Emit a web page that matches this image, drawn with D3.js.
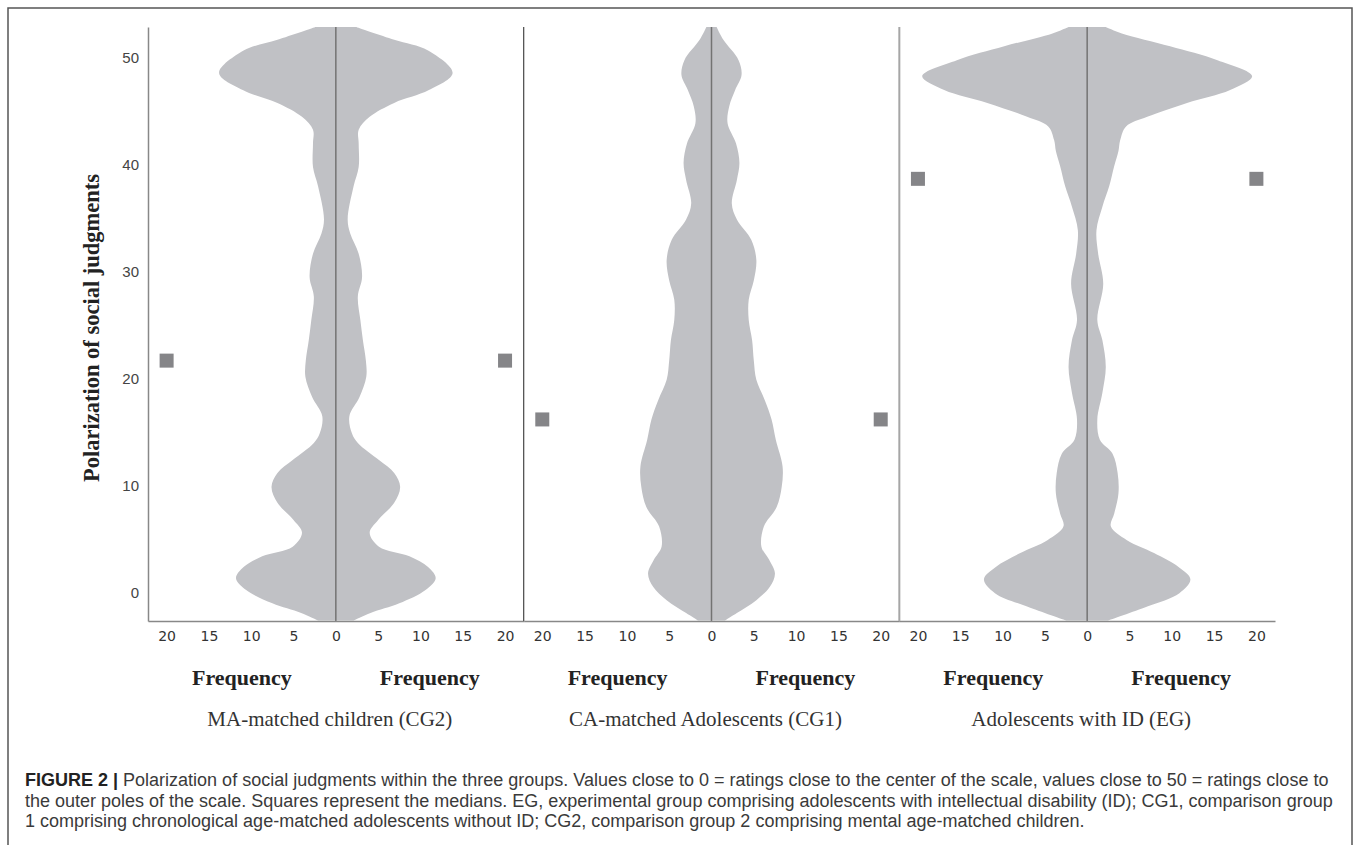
<!DOCTYPE html>
<html>
<head>
<meta charset="utf-8">
<script src="https://cdnjs.cloudflare.com/ajax/libs/d3/7.8.5/d3.min.js"></script>
<style>
body { margin: 0; background: #fff; }
#graphic svg { display: block; }
</style>
</head>
<body>
<div id="graphic"></div>
<script>
// group names, left to right
var groupLabels = ["MA-matched children (CG2)", "CA-matched Adolescents (CG1)", "Adolescents with ID (EG)"];
var medians = [21.7, 16.2, 38.7];

// violin outlines: polarization level and frequency (half width)
var cg2Levels = [-2.6, -1.9, -1.0, 0.25, 1.35, 2.4, 3.4, 4.3, 5.6, 6.8, 8.4, 9.9, 11.2, 12.4, 14.0, 14.9, 16.5, 18.3, 20.2, 21.7, 23.6, 25.5, 27.7, 29.5, 31.7, 33.6, 34.9, 38.0, 39.8, 42.0, 43.3, 44.5, 45.8, 47.0, 48.6, 50.7, 51.7, 52.9];
var cg2Freq = [2.1, 4.1, 7.5, 10.6, 11.8, 10.9, 8.7, 5.1, 4.0, 5.0, 6.9, 7.6, 6.9, 5.1, 2.6, 1.9, 1.6, 2.8, 3.6, 3.55, 3.2, 2.9, 2.6, 3.1, 2.7, 1.7, 1.4, 2.1, 2.7, 2.7, 2.7, 4.0, 6.9, 11.0, 13.8, 10.9, 6.9, 2.4];

var cg1Levels = [-2.6, -1.9, -0.7, 0.56, 1.8, 3.1, 4.3, 6.2, 8.0, 9.9, 11.8, 14.3, 16.2, 18.0, 19.9, 21.7, 23.6, 25.5, 27.4, 29.2, 31.1, 33.0, 34.9, 36.4, 38.6, 40.2, 42.0, 43.9, 45.5, 47.0, 48.4, 49.8, 51.7, 52.9];
var cg1Freq = [1.6, 3.0, 5.3, 6.9, 7.5, 6.8, 5.9, 6.2, 7.7, 8.3, 8.4, 7.6, 7.1, 6.3, 5.3, 5.0, 4.8, 4.4, 4.4, 5.0, 5.3, 4.7, 3.0, 2.4, 3.0, 3.3, 2.9, 1.9, 2.1, 2.8, 3.55, 3.2, 1.4, 0.6];

var egLevels = [-2.6, -1.3, -0.05, 1.25, 2.4, 3.7, 4.9, 6.2, 7.4, 9.3, 11.2, 13.0, 14.3, 16.2, 18.7, 21.1, 23.6, 25.5, 28.9, 31.7, 33.9, 36.1, 38.0, 39.9, 41.3, 42.3, 43.6, 44.5, 45.8, 47.0, 48.3, 49.8, 51.1, 52.3, 52.9];
var egFreq = [2.5, 7.1, 10.9, 12.2, 10.8, 7.9, 4.7, 2.8, 3.2, 3.7, 3.6, 3.0, 1.5, 1.2, 1.8, 2.2, 1.8, 1.2, 1.9, 1.3, 1.1, 1.8, 2.6, 3.2, 3.7, 3.9, 4.6, 7.1, 11.8, 16.9, 19.5, 15.4, 9.8, 4.1, 2.2];

var yTicks = [0, 10, 20, 30, 40, 50];
var xTicks = [-20, -15, -10, -5, 0, 5, 10, 15, 20];
var yAxisLabel = "Polarization of social judgments";
var xAxisLabel = "Frequency";
var captionBold = "FIGURE 2 | ";
var captionLines = [
	"Polarization of social judgments within the three groups. Values close to 0 = ratings close to the center of the scale, values close to 50 = ratings close to",
	"the outer poles of the scale. Squares represent the medians. EG, experimental group comprising adolescents with intellectual disability (ID); CG1, comparison group",
	"1 comprising chronological age-matched adolescents without ID; CG2, comparison group 2 comprising mental age-matched children."
];

var groups = [
	{ levels: cg2Levels, freq: cg2Freq },
	{ levels: cg1Levels, freq: cg1Freq },
	{ levels: egLevels, freq: egFreq }
];

var width = 1357, height = 845;
var plot = { left: 148, right: 1275, top: 27, bottom: 621 };
var panelWidth = (plot.right - plot.left) / 3;

var svg = d3
	.select("#graphic")
	.append("svg")
	.attr("width", width)
	.attr("height", height);

// outer frame
svg
	.append("rect")
	.attr("x", 8)
	.attr("y", 8)
	.attr("width", 1344)
	.attr("height", 900)
	.attr("fill", "none")
	.attr("stroke", "#555")
	.attr("stroke-width", 1.5);

var y = d3.scaleLinear().domain([-2.65, 52.9]).range([plot.bottom, plot.top]);

groups.forEach(function(g, k) {
	var x0 = plot.left + k * panelWidth;
	var x = d3.scaleLinear().domain([-22.2, 22.2]).range([x0, x0 + panelWidth]);

	var pts = g.levels.map(function(v, i) {
		return [v, g.freq[i]];
	});

	var area = d3
		.area()
		.curve(d3.curveCatmullRom)
		.y(function(d) { return y(d[0]); })
		.x0(function(d) { return x(-d[1]); })
		.x1(function(d) { return x(d[1]); });

	svg
		.append("path")
		.datum(pts)
		.attr("d", area)
		.attr("fill", "#c0c1c5");

	// centre line
	svg
		.append("line")
		.attr("x1", x(0))
		.attr("x2", x(0))
		.attr("y1", plot.top)
		.attr("y2", plot.bottom)
		.attr("stroke", "#737373")
		.attr("stroke-width", 1.5);

	// medians, mirrored at +-20
	svg
		.selectAll(".median-" + k)
		.data([-20, 20])
		.enter()
		.append("rect")
		.attr("class", "median-" + k)
		.attr("x", function(d) { return x(d) - 7; })
		.attr("y", y(medians[k]) - 7)
		.attr("width", 14)
		.attr("height", 14)
		.attr("fill", "#858588");

	var xAxis = d3
		.axisBottom(x)
		.tickValues(xTicks)
		.tickFormat(function(d) { return Math.abs(d); })
		.tickSize(0)
		.tickPadding(10);

	var ax = svg
		.append("g")
		.attr("transform", "translate(0," + plot.bottom + ")")
		.call(xAxis);
	ax.select(".domain").attr("stroke", "#888").attr("stroke-width", 1.5);
	ax
		.selectAll("text")
		.attr("fill", "#333")
		.style("font-family", "DejaVu Sans")
		.style("font-size", "14px");

	// Frequency under each half
	svg
		.selectAll(".freq-" + k)
		.data([-11.1, 11.1])
		.enter()
		.append("text")
		.attr("class", "freq-" + k)
		.attr("x", function(d) { return x(d); })
		.attr("y", 685)
		.attr("text-anchor", "middle")
		.style("font-family", "Liberation Serif")
		.style("font-weight", "bold")
		.style("font-size", "22px")
		.attr("fill", "#222")
		.text(xAxisLabel);

	svg
		.append("text")
		.attr("x", x(0) - 6)
		.attr("y", 726)
		.attr("text-anchor", "middle")
		.style("font-family", "Liberation Serif")
		.style("font-size", "21px")
		.attr("fill", "#333")
		.text(groupLabels[k]);
});

// panel dividers
svg
	.append("line")
	.attr("x1", plot.left + panelWidth)
	.attr("x2", plot.left + panelWidth)
	.attr("y1", plot.top)
	.attr("y2", plot.bottom)
	.attr("stroke", "#555")
	.attr("stroke-width", 1.3);

svg
	.append("line")
	.attr("x1", plot.left + 2 * panelWidth)
	.attr("x2", plot.left + 2 * panelWidth)
	.attr("y1", plot.top)
	.attr("y2", plot.bottom)
	.attr("stroke", "#a6a6a6")
	.attr("stroke-width", 2);

var yAxis = d3
	.axisLeft(y)
	.tickValues(yTicks)
	.tickSize(0)
	.tickPadding(9);

var ay = svg
	.append("g")
	.attr("transform", "translate(" + plot.left + ",0)")
	.call(yAxis);
ay.select(".domain").attr("stroke", "#888").attr("stroke-width", 1.5);
ay
	.selectAll("text")
	.attr("fill", "#444")
	.style("font-family", "Liberation Sans")
	.style("font-size", "15px");

svg
	.append("text")
	.attr("transform", "translate(99,328) rotate(-90)")
	.attr("text-anchor", "middle")
	.style("font-family", "Liberation Serif")
	.style("font-weight", "bold")
	.style("font-size", "22.5px")
	.attr("fill", "#222")
	.text(yAxisLabel);

// caption
var cap = svg
	.append("g")
	.style("font-family", "Liberation Sans")
	.style("font-size", "18px")
	.attr("fill", "#3a3a3a");

captionLines.forEach(function(line, i) {
	var t = cap
		.append("text")
		.attr("x", 25)
		.attr("y", 786 + i * 20.5);
	if (i == 0) {
		t.append("tspan").style("font-weight", "bold").attr("fill", "#222").text(captionBold);
	}
	t.append("tspan").text(line);
});
</script>
</body>
</html>
